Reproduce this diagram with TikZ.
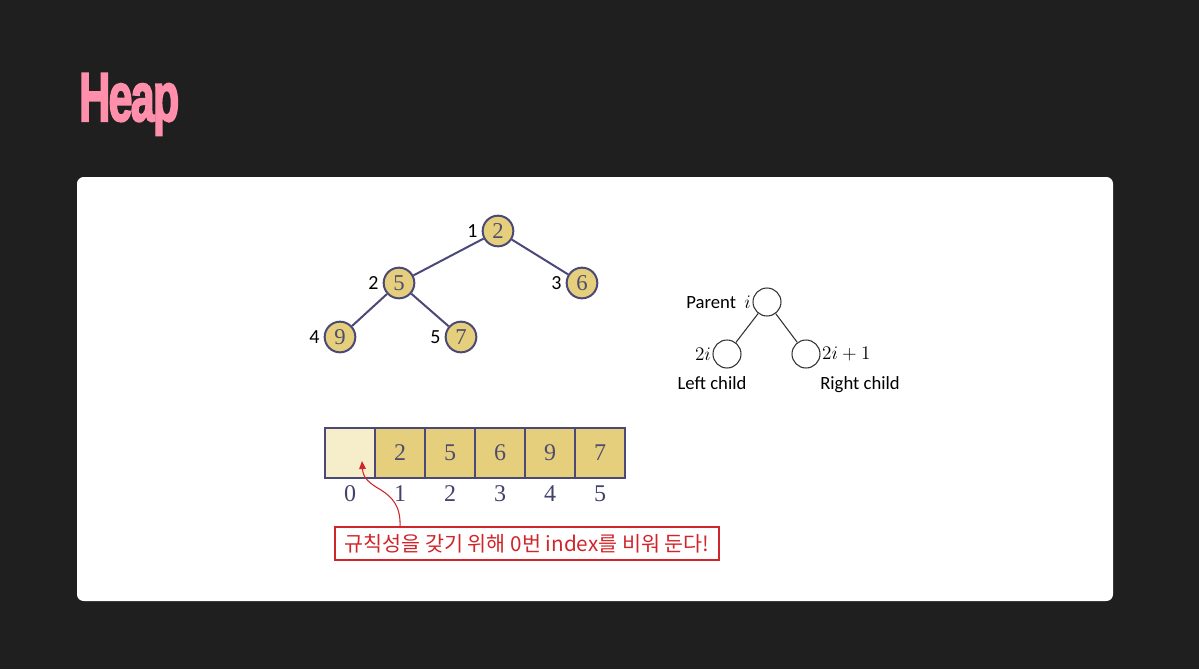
\documentclass[tikz,border=0pt]{standalone}
\usepackage{fontspec}
\usepackage{graphicx}
\setmainfont{Liberation Serif}
\newfontfamily\labelfont{Carlito}
\newfontfamily\titlefont[FakeBold=3, LetterSpace=-4]{Liberation Sans}
\newfontfamily\korfont{Noto Sans CJK KR}
\usetikzlibrary{positioning, arrows.meta, calc}

\definecolor{bgdark}{HTML}{1F1F1F}
\definecolor{heappink}{HTML}{FF8FAB}
\definecolor{heapfill}{HTML}{E6CF7C}
\definecolor{cellempty}{HTML}{F6EDCB}
\definecolor{heapline}{HTML}{4A4978}
\definecolor{numtext}{HTML}{4F4D6E}
\definecolor{notered}{HTML}{D0262B}

\tikzset{
  heapnode/.style={circle, draw=heapline, fill=heapfill, line width=1.5pt,
    minimum size=23pt, inner sep=0pt, text=numtext,
    font=\fontsize{17}{17}\selectfont},
  idxlabel/.style={label distance=2pt, inner sep=1pt,
    font=\labelfont\fontsize{15}{15}\selectfont},
  treeedge/.style={draw=heapline, line width=1.5pt},
  plainnode/.style={circle, draw=black!80, fill=white, line width=0.8pt,
    minimum size=21pt, inner sep=0pt},
  plainedge/.style={draw=black!80, line width=0.8pt},
  sidetext/.style={font=\labelfont\fontsize{14}{14}\selectfont, inner sep=1pt},
  cellbox/.style={draw=heapline, fill=heapfill, line width=2.2pt,
    minimum width=37.5pt, minimum height=37.5pt, inner sep=0pt,
    text=numtext, font=\fontsize{18}{18}\selectfont},
  idxnum/.style={text=heapline!90!black, font=\fontsize{18}{18}\selectfont, inner sep=0pt},
  notebox/.style={draw=notered, line width=1.2pt, fill=white, text=notered,
    minimum width=288pt, minimum height=25pt, inner sep=0pt,
    font=\korfont\fontsize{15.5}{15.5}\selectfont}
}

\begin{document}
\begin{tikzpicture}[x=0.75pt, y=-0.75pt]
    \fill[bgdark] (0,0) rectangle (1199,669);
    \useasboundingbox (0,0) rectangle (1199,669);
    \fill[white, rounded corners=5pt] (77,177) rectangle (1113,601);

    \node[anchor=base west, inner sep=0pt, text=heappink] (title) at (79,121)
        {\scalebox{0.62}[1]{\titlefont\bfseries\fontsize{52}{52}\selectfont Heap}};

    % heap as a tree
    \node[heapnode, label={[idxlabel]left:1}] (n1) at (498,231) {2};
    \node[heapnode, label={[idxlabel]left:2}] (n2) at (399,283) {5};
    \node[heapnode, label={[idxlabel]left:3}] (n3) at (582,283) {6};
    \node[heapnode, label={[idxlabel]left:4}] (n4) at (340,337) {9};
    \node[heapnode, label={[idxlabel]left:5}] (n5) at (461,337) {7};
    \draw[treeedge] (n1) -- (n2);
    \draw[treeedge] (n1) -- (n3);
    \draw[treeedge] (n2) -- (n4);
    \draw[treeedge] (n2) -- (n5);

    % parent / children rule
    \node[plainnode, label={[sidetext]left:Parent\ \ $i$}] (par) at (767,302) {};
    \node[plainnode, label={[sidetext]left:$2i$}] (lc) at (727,354) {};
    \node[plainnode, label={[sidetext]right:$2i+1$}] (rc) at (806,354) {};
    \draw[plainedge] (par) -- (lc);
    \draw[plainedge] (par) -- (rc);
    \node[sidetext, anchor=base] (lctext) at (712,389) {Left child};
    \node[sidetext, anchor=base] (rctext) at (860,389) {Right child};

    % heap as an array
    \node[cellbox, fill=cellempty] (c0) at (350,453) {};
    \node[idxnum] (i0) at (350,494) {0};
    \foreach \v [count=\k] in {2,5,6,9,7} {
        \node[cellbox] (c\k) at ({350+50*\k},453) {\v};
        \node[idxnum] (i\k) at ({350+50*\k},494) {\k};
    }

    \node[notebox] (note) at (527,543.5) {규칙성을 갖기 위해 0번 index를 비워 둔다!};
    \coordinate (gap) at (362,461);
    \coordinate (from) at (400,527);
    \draw[notered, line width=0.8pt, -{Triangle[length=6pt, width=5pt]}]
        (from) .. controls (401,506) and (392,497) .. (381,490)
        .. controls (369,483) and (363,478) .. (gap);
\end{tikzpicture}
\end{document}
